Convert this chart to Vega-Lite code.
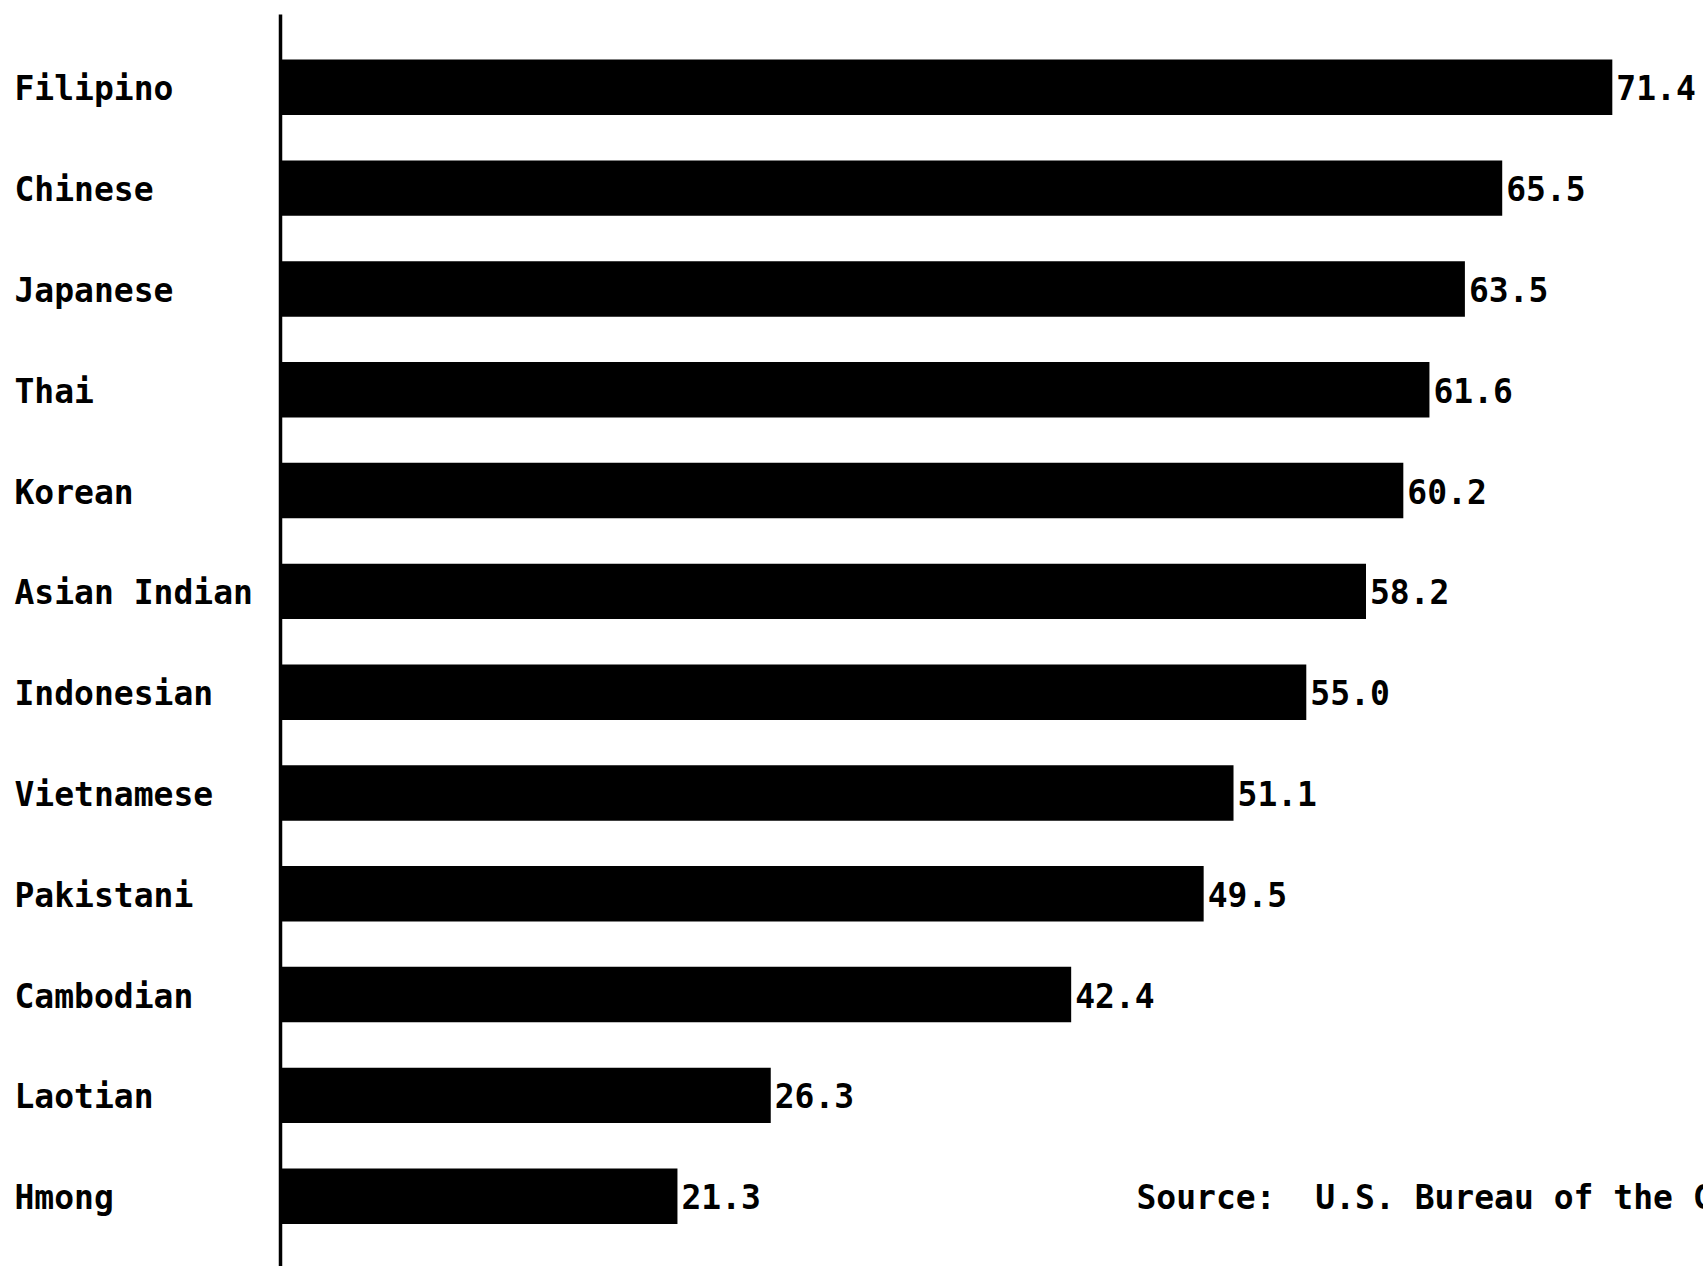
{
  "$schema": "https://vega.github.io/schema/vega-lite/v6.json",
  "autosize": {"type": "none"},
  "padding": {"left": 280, "top": 14, "right": 0, "bottom": 0},
  "width": 1423,
  "height": 1252,
  "background": "white",
  "config": {"view": {"stroke": null}, "font": "DejaVu Sans Mono"},
  "datasets": {
    "bars": [
      {"group": "Filipino", "value": 71.4},
      {"group": "Chinese", "value": 65.5},
      {"group": "Japanese", "value": 63.5},
      {"group": "Thai", "value": 61.6},
      {"group": "Korean", "value": 60.2},
      {"group": "Asian Indian", "value": 58.2},
      {"group": "Indonesian", "value": 55.0},
      {"group": "Vietnamese", "value": 51.1},
      {"group": "Pakistani", "value": 49.5},
      {"group": "Cambodian", "value": 42.4},
      {"group": "Laotian", "value": 26.3},
      {"group": "Hmong", "value": 21.3}
    ],
    "note": [
      {"group": "Hmong", "x": 45.9, "label": "Source:\u00a0\u00a0U.S. Bureau of the Census"}
    ]
  },
  "encoding": {
    "y": {
      "field": "group",
      "type": "nominal",
      "sort": null,
      "scale": {"paddingInner": 0.45, "paddingOuter": 0.435, "align": 0.52},
      "axis": {
        "title": null,
        "ticks": false,
        "tickSize": 0,
        "domain": true,
        "domainColor": "black",
        "domainWidth": 3.5,
        "labelAlign": "left",
        "labelPadding": 266,
        "labelOffset": 3,
        "labelFont": "DejaVu Sans Mono",
        "labelFontSize": 33,
        "labelFontWeight": "bold",
        "labelColor": "black",
        "labelLimit": 0
      }
    }
  },
  "layer": [
    {
      "data": {"name": "bars"},
      "mark": {"type": "bar", "color": "black"},
      "encoding": {
        "x": {"field": "value", "type": "quantitative", "scale": {"domain": [0, 76.26], "nice": false}, "axis": null}
      }
    },
    {
      "data": {"name": "bars"},
      "mark": {"type": "text", "align": "left", "baseline": "middle", "dx": 4, "dy": 3, "fontSize": 33, "fontWeight": "bold", "font": "DejaVu Sans Mono", "color": "black"},
      "encoding": {
        "x": {"field": "value", "type": "quantitative"},
        "text": {"field": "value", "type": "quantitative", "format": ".1f"}
      }
    },
    {
      "data": {"name": "note"},
      "mark": {"type": "text", "align": "left", "baseline": "middle", "dy": 3, "fontSize": 33, "fontWeight": "bold", "font": "DejaVu Sans Mono", "color": "black"},
      "encoding": {
        "x": {"field": "x", "type": "quantitative"},
        "text": {"field": "label"}
      }
    }
  ]
}
